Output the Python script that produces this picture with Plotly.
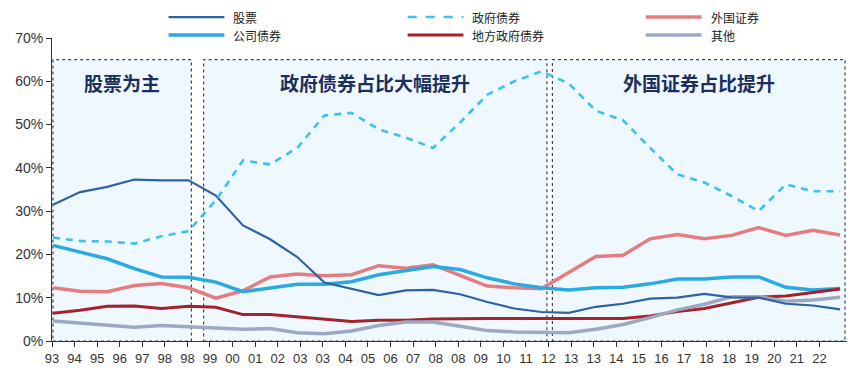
import plotly.graph_objects as go

# ---------------- data ----------------
years = list(range(1993, 2023))

stocks = [31.5, 34.4, 35.6, 37.3, 37.1, 37.1, 33.6, 26.7, 23.5, 19.4,
          13.5, 12.0, 10.6, 11.7, 11.8, 10.8, 9.0, 7.5, 6.7, 6.5,
          7.9, 8.6, 9.8, 10.0, 10.9, 10.1, 10.0, 8.6, 8.2, 7.3]
gov_bonds = [23.9, 23.1, 23.0, 22.5, 24.2, 25.4, 32.5, 41.7, 40.8, 44.6,
             52.1, 52.7, 48.9, 47.0, 44.6, 50.5, 56.9, 60.0, 62.3, 59.5,
             53.2, 51.0, 44.6, 38.5, 36.6, 33.5, 30.0, 36.2, 34.6, 34.6]
foreign = [12.3, 11.5, 11.4, 12.8, 13.3, 12.3, 9.9, 11.6, 14.8, 15.5,
           15.1, 15.3, 17.4, 16.8, 17.6, 15.1, 12.7, 12.3, 12.1, 15.8,
           19.5, 19.8, 23.6, 24.6, 23.6, 24.4, 26.2, 24.4, 25.6, 24.5]
corp_bonds = [22.1, 20.5, 19.0, 16.7, 14.8, 14.7, 13.6, 11.4, 12.3, 13.1,
              13.1, 13.7, 15.3, 16.3, 17.2, 16.5, 14.6, 13.2, 12.3, 11.8,
              12.3, 12.4, 13.2, 14.3, 14.3, 14.8, 14.8, 12.4, 11.8, 12.1]
local_bonds = [6.4, 7.1, 8.0, 8.1, 7.5, 8.0, 7.8, 6.1, 6.1, 5.6,
               5.0, 4.5, 4.8, 4.8, 5.1, 5.2, 5.2, 5.2, 5.2, 5.1,
               5.2, 5.2, 5.8, 6.8, 7.5, 8.8, 10.1, 10.4, 11.2, 12.0]
others = [4.6, 4.1, 3.8, 3.2, 3.6, 3.4, 3.0, 2.7, 2.9, 1.9,
          1.7, 2.3, 3.6, 4.4, 4.4, 3.4, 2.4, 2.1, 1.9, 1.9,
          2.7, 3.8, 5.4, 7.2, 8.5, 10.2, 10.2, 9.2, 9.5, 10.1]

tick_labels = ["93", "94", "95", "96", "97", "98", "98", "99", "00", "01",
               "02", "03", "03", "04", "05", "06", "07", "08", "08", "09",
               "10", "11", "12", "13", "13", "14", "15", "16", "17", "18",
               "18", "19", "20", "21", "22"]
y_ticks = [0, 10, 20, 30, 40, 50, 60, 70]
y_tick_labels = [f"{v}%" for v in y_ticks]

series_names = ["股票", "政府债券", "外国证券", "公司债券", "地方政府债券", "其他"]

# periods (year ranges) of the shaded phases and their titles
phases = [
    {"x0": 1993.0, "x1": 1998.1, "title": "股票为主"},
    {"x0": 1998.55, "x1": 2011.2, "title": "政府债券占比大幅提升"},
    {"x0": 2011.4, "x1": 2022.18, "title": "外国证券占比提升"},
]
phase_top = 65

# ---------------- styles ----------------
C_STOCK = "#2F62A0"
C_GOV = "#3EC0F0"
C_FOREIGN = "#E57D80"
C_CORP = "#2AAAE0"
C_LOCAL = "#A3232C"
C_OTHER = "#9DA9C4"

FONT_TXT = "Liberation Sans, Arial, sans-serif"
FONT_CJK = "Noto Sans CJK SC, sans-serif"

OFF = 8  # default page body margin
W, H = 855 - OFF, 373 - OFF
ML, MR, MT, MB = 49 - OFF, 7, 38 - OFF, 31
PW = W - ML - MR
PH = H - MT - MB

X0 = 1992.965
X1 = 2022.29
tick_step = 0.8315
tick_vals = [X0 + i * tick_step for i in range(len(tick_labels))]


def px2paper_x(px):
    return (px - OFF - ML) / PW


def px2paper_y(py):
    return (H - MB - (py - OFF)) / PH


fig = go.Figure()

specs = [
    (foreign, series_names[2], C_FOREIGN, 3.5, "solid"),
    (corp_bonds, series_names[3], C_CORP, 3.5, "solid"),
    (local_bonds, series_names[4], C_LOCAL, 3.0, "solid"),
    (others, series_names[5], C_OTHER, 3.5, "solid"),
    (stocks, series_names[0], C_STOCK, 2.2, "solid"),
    (gov_bonds, series_names[1], C_GOV, 2.6, "7px,6px"),
]
for vals, name, color, width, dash in specs:
    fig.add_trace(go.Scatter(
        x=years, y=vals, name=name, mode="lines",
        line=dict(color=color, width=width, dash=dash),
        showlegend=False, hoverinfo="skip"))

shapes = []
annotations = []
for ph in phases:
    shapes.append(dict(type="rect", xref="x", yref="y",
                       x0=ph["x0"], x1=ph["x1"], y0=0, y1=phase_top,
                       fillcolor="#EEF8FE",
                       line=dict(color="#3E4458", width=1.2, dash="dot"),
                       layer="below"))
    annotations.append(dict(xref="x", yref="paper",
                            x=(ph["x0"] + ph["x1"]) / 2, y=px2paper_y(83),
                            text=f"<b>{ph['title']}</b>", showarrow=False,
                            font=dict(family=FONT_CJK, size=19, color="#1C2F5C"),
                            xanchor="center", yanchor="middle"))

# custom legend (row, col) layout
legend_items = [
    (series_names[0], C_STOCK, 2.2, "solid", 0, 0),
    (series_names[1], C_GOV, 2.6, "dash", 0, 1),
    (series_names[2], C_FOREIGN, 3.5, "solid", 0, 2),
    (series_names[3], C_CORP, 3.5, "solid", 1, 0),
    (series_names[4], C_LOCAL, 3.0, "solid", 1, 1),
    (series_names[5], C_OTHER, 3.5, "solid", 1, 2),
]
col_x = [166, 406, 645]
row_y = [17, 35]
for name, color, width, dash, r, c in legend_items:
    xs = col_x[c]
    yy = row_y[r]
    shapes.append(dict(type="line", xref="paper", yref="paper",
                       x0=px2paper_x(xs), x1=px2paper_x(xs + 56),
                       y0=px2paper_y(yy), y1=px2paper_y(yy),
                       line=dict(color=color, width=width, dash=dash)))
    annotations.append(dict(xref="paper", yref="paper",
                            x=px2paper_x(xs + 63), y=px2paper_y(yy),
                            text=name, showarrow=False,
                            font=dict(family=FONT_CJK, size=12, color="#222222"),
                            xanchor="left", yanchor="middle"))

fig.update_layout(
    width=W, height=H,
    margin=dict(l=ML, r=MR, t=MT, b=MB, pad=0),
    paper_bgcolor="white", plot_bgcolor="white",
    shapes=shapes, annotations=annotations,
    showlegend=False,
    xaxis=dict(range=[X0, X1], tickmode="array", tickvals=tick_vals,
               ticktext=tick_labels, showgrid=False, zeroline=False,
               showline=True, linecolor="#333333", linewidth=1,
               ticks="outside", ticklen=5, tickcolor="#333333",
               tickfont=dict(family=FONT_TXT, size=13, color="#333333")),
    yaxis=dict(range=[0, 70], tickmode="array", tickvals=y_ticks,
               ticktext=y_tick_labels, showgrid=False, zeroline=False,
               showline=True, linecolor="#333333", linewidth=1,
               ticks="outside", ticklen=5, tickcolor="#333333",
               tickfont=dict(family=FONT_TXT, size=14, color="#333333")),
)

fig.write_html("out.html")
